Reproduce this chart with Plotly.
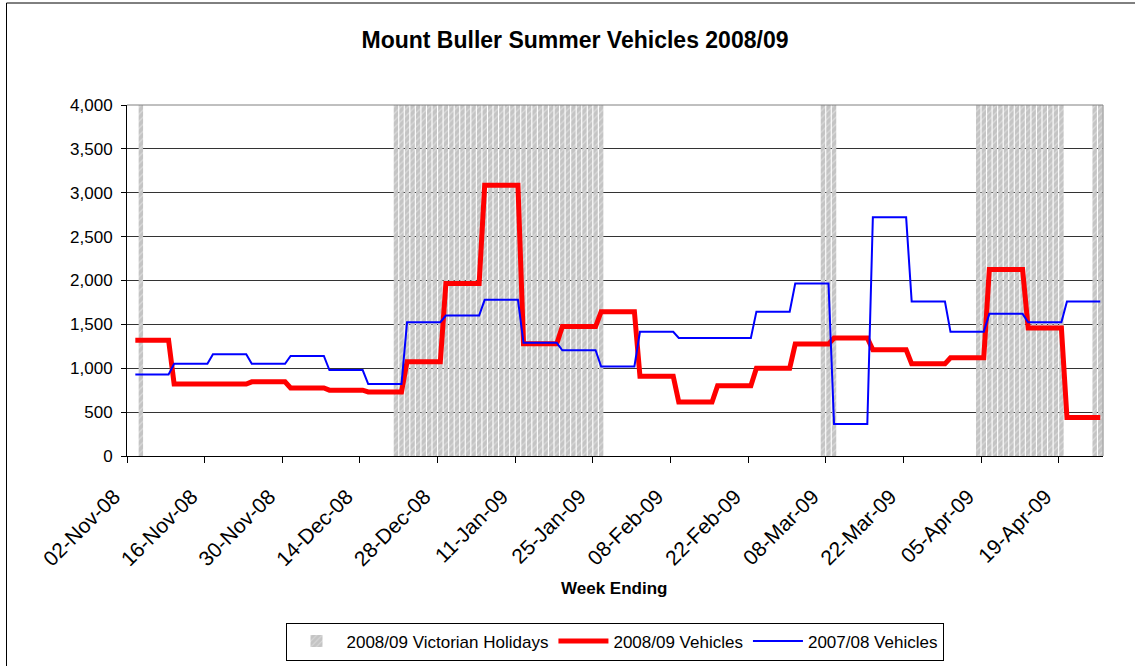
import pandas as pd
import plotly.graph_objects as go

# ---------------- data ----------------
week_ending = pd.date_range("2008-11-09", periods=25, freq="7D")  # Sundays
vehicles_0809 = [1320, 820, 820, 845, 775, 750, 730, 1075, 1965, 3085, 1280, 1475, 1645,
                 910, 615, 800, 1000, 1275, 1345, 1210, 1050, 1120, 2125, 1460, 440]
vehicles_0708 = [930, 1050, 1160, 1050, 1140, 980, 820, 1525, 1600, 1780, 1290, 1205, 1020,
                 1415, 1345, 1345, 1645, 1965, 365, 2720, 1760, 1415, 1620, 1525, 1760]
holiday_periods = [("2008-11-04", "2008-11-04"), ("2008-12-20", "2009-01-26"),
                   ("2009-03-07", "2009-03-09"), ("2009-04-04", "2009-04-19"),
                   ("2009-04-25", "2009-04-26")]
holiday_level = 4000

FONT = "Arial, 'Liberation Sans', sans-serif"
HALF = pd.Timedelta(hours=12)


def weekly_xy(values):
    xs, ys = [], []
    for e, v in zip(week_ending, values):
        xs += [e - pd.Timedelta(days=6) + HALF, e + HALF]
        ys += [v, v]
    return xs, ys


hol_days = []
for a, b in holiday_periods:
    hol_days += list(pd.date_range(a, b, freq="D"))
hol_x = [d + HALF for d in hol_days]
hol_y = [holiday_level] * len(hol_x)

fig = go.Figure()
fig.add_trace(go.Bar(
    x=hol_x, y=hol_y, width=[0.8 * 86400000] * len(hol_x),
    name="2008/09 Victorian Holidays",
    marker=dict(color="#c4c4c4", line=dict(width=0),
                pattern=dict(shape="/", fgcolor="#f0f0f0", size=5, solidity=0.25)),
))
rx, ry = weekly_xy(vehicles_0809)
fig.add_trace(go.Scatter(x=rx, y=ry, mode="lines", name="2008/09 Vehicles",
                         line=dict(color="#ff0000", width=5)))
bx, by = weekly_xy(vehicles_0708)
fig.add_trace(go.Scatter(x=bx, y=by, mode="lines", name="2007/08 Vehicles",
                         line=dict(color="#0000ff", width=2)))

W, H = 1135, 666
L, R, T, B = 127, 1103, 105, 456
PW, PH = R - L, B - T


def px(x):
    return (x - L) / PW


def py(y):
    return (B - y) / PH


fig.update_layout(
    width=W, height=H, autosize=False,
    margin=dict(l=L, r=W - R, t=T, b=H - B, autoexpand=False),
    paper_bgcolor="white", plot_bgcolor="white",
    font=dict(family=FONT, color="black"),
    title=dict(text="<b>Mount Buller Summer Vehicles 2008/09</b>",
               x=575 / W, xref="container", xanchor="center",
               y=1 - 40 / H, yref="container", yanchor="middle",
               font=dict(size=23, family=FONT, color="black")),
    showlegend=True,
    legend=dict(orientation="h", x=614.5 / W, xref="container", xanchor="center",
                y=1 - 641.5 / H, yref="container", yanchor="middle",
                bordercolor="black", borderwidth=1, font=dict(size=17, family=FONT),
                traceorder="normal", bgcolor="white", itemwidth=50),
    xaxis=dict(type="date", range=["2008-11-02", "2009-04-27"],
               tick0="2008-11-02", dtick=14 * 86400000, tickformat="%d-%b-%y",
               tickangle=-45, ticks="outside", ticklen=6, tickcolor="black",
               showline=True, linecolor="black", linewidth=1, showgrid=False,
               tickfont=dict(size=21, family=FONT), zeroline=False,
               ticklabelstandoff=13, ticklabelshift=-13, automargin=False),
    yaxis=dict(range=[0, 4000], dtick=500, tickformat=",", ticks="outside",
               ticklen=5, tickcolor="black", showline=True, linecolor="black",
               linewidth=1, showgrid=True, gridcolor="#333333", gridwidth=1,
               tickfont=dict(size=17, family=FONT), zeroline=False,
               ticklabelstandoff=5, automargin=False),
    annotations=[dict(text="<b>Week Ending</b>", xref="paper", yref="paper",
                      x=px(614), y=py(588), xanchor="center", yanchor="middle",
                      showarrow=False, font=dict(size=17, family=FONT))],
    shapes=[
        dict(type="line", xref="paper", yref="paper", x0=0, x1=1, y0=1, y1=1,
             line=dict(color="#808080", width=1), layer="above"),
        dict(type="line", xref="paper", yref="paper", x0=1, x1=1, y0=0, y1=1,
             line=dict(color="#808080", width=1), layer="above"),
        dict(type="rect", xref="paper", yref="paper", x0=px(6.5), x1=px(1145),
             y0=py(680), y1=py(3), line=dict(color="black", width=1),
             fillcolor="rgba(0,0,0,0)", layer="below"),
    ],
)

fig.write_html("out.html", config={"displayModeBar": False},
               post_script="document.body.style.margin='0';document.body.style.overflow='hidden';")
